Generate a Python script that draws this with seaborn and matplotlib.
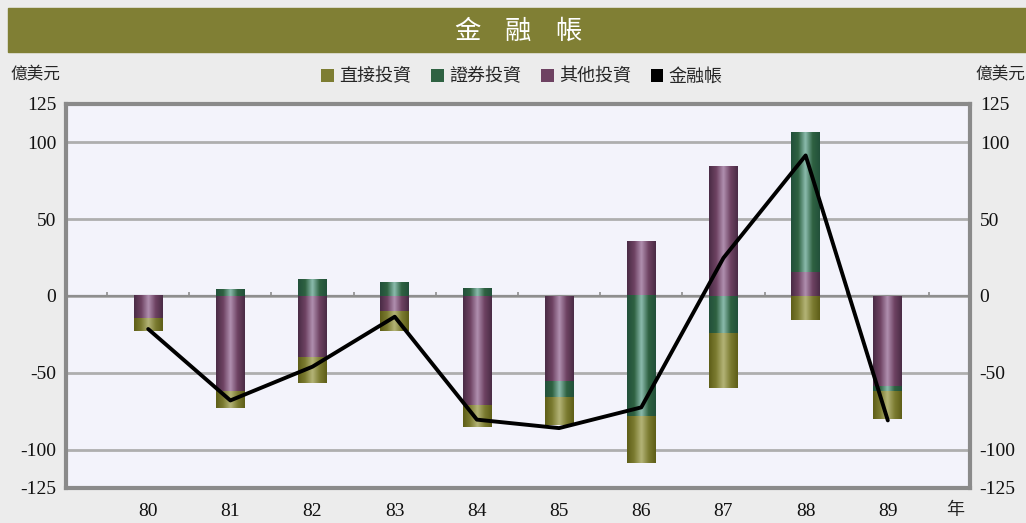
import numpy as np
import matplotlib
matplotlib.use("Agg")
import matplotlib.pyplot as plt
from matplotlib.colors import LinearSegmentedColormap
from matplotlib.patches import Patch, Rectangle
import seaborn as sns

# values in 億美元
years = ["80", "81", "82", "83", "84", "85", "86", "87", "88", "89"]
direct = [-8.1, -10.8, -16.3, -12.4, -13.7, -18.0, -30.0, -35.7, -15.3, -18.0]
portfolio = [0.0, 4.4, 10.5, 8.7, 4.6, -10.5, -79.0, -23.9, 90.6, -2.8]
other = [-14.6, -61.9, -40.1, -10.3, -71.7, -55.7, 35.7, 84.0, 15.3, -59.0]
financial = [-21.5, -68.0, -46.0, -13.5, -80.5, -86.0, -72.5, 24.8, 91.5, -81.0]

labels = ["直接投資", "證券投資", "其他投資", "金融帳"]
colors = ["#7d7d32", "#2f6242", "#6e4262", "#000000"]
# (dark edge, light centre) for the cylinder look
shades = {
    "direct": ("#5e5e18", "#b4b478"),
    "portfolio": ("#22503a", "#8cbcae"),
    "other": ("#4a2c46", "#b090b0"),
}

sns.set_theme(style="white")
plt.rcParams["font.family"] = ["Liberation Serif", "Noto Sans CJK TC", "DejaVu Sans"]

fig = plt.figure(figsize=(10.26, 5.23), dpi=100, facecolor="#ececec")
ax = fig.add_axes([66 / 1026, 35 / 523, 904 / 1026, 384 / 523])
ax.set_facecolor("#f3f3fb")

x = np.arange(len(years))
width = 0.35
pos_base = np.zeros(len(years))
neg_base = np.zeros(len(years))

# stack order from the zero line outwards: other, portfolio, direct
for key, vals, col in [("other", other, colors[2]),
                       ("portfolio", portfolio, colors[1]),
                       ("direct", direct, colors[0])]:
    vals = np.array(vals)
    bottom = np.where(vals >= 0, pos_base, neg_base)
    bars = ax.bar(x, vals, width, bottom=bottom, color=col, zorder=2, linewidth=0)
    dark, light = shades[key]
    cmap = LinearSegmentedColormap.from_list(key, [dark, col, light, col, dark])
    for p in bars.patches:
        if p.get_height() == 0:
            continue
        x0, y0 = p.get_x(), p.get_y()
        ax.imshow(np.linspace(0, 1, 64)[None, :], cmap=cmap, aspect="auto",
                  extent=(x0, x0 + p.get_width(), y0, y0 + p.get_height()),
                  interpolation="bilinear", zorder=2.1)
    pos_base += np.where(vals >= 0, vals, 0)
    neg_base += np.where(vals < 0, vals, 0)

sns.lineplot(x=x, y=financial, color="black", linewidth=2.8, ax=ax, zorder=5)

ax.set_xlim(-1, len(years))
ax.set_ylim(-125, 125)
ax.set_xticks(x)
ax.set_xticklabels(years)
ax.set_yticks([-125, -100, -50, 0, 50, 100, 125])
ax.set_yticklabels(["-125", "-100", "-50", "0", "50", "100", "125"])
ax.tick_params(axis="x", length=0, pad=11, labelsize=14)
ax.tick_params(axis="y", length=0, pad=7, labelsize=14, labelright=True)
for t in ax.get_yticklabels() + ax.get_xticklabels():
    t.set_color("#111111")

ax.grid(axis="y", color="#aeaeae", linewidth=2.0, zorder=1)
ax.grid(axis="x", visible=False)
ax.axhline(0, color="#8e8e8e", linewidth=1.6, zorder=1.5)
ax.vlines(np.arange(len(years) + 1) - 0.5, 0, 2.5, color="#8e8e8e", linewidth=1.2, zorder=1.5)
for s in ax.spines.values():
    s.set_color("#8a8a8a")
    s.set_linewidth(3)

# title bar
fig.patches.append(Rectangle((8 / 1026, 471 / 523), 1 - 8 / 1026, 44 / 523,
                             transform=fig.transFigure, color="#807f34", zorder=0))
for ch, px in zip("金融帳", [467, 518, 568]):
    fig.text(px / 1026, 1 - 31 / 523, ch, color="white", fontsize=19,
             ha="center", va="center", family=["Noto Sans CJK TC"])

fig.text(35 / 1026, 1 - 75 / 523, "億美元", fontsize=12, ha="center", va="center")
fig.text(1000 / 1026, 1 - 75 / 523, "億美元", fontsize=12, ha="center", va="center")
fig.text(955 / 1026, 1 - 511 / 523, "年", fontsize=13, ha="center", va="center")

handles = [Patch(facecolor=c, edgecolor="none") for c in colors]
fig.legend(handles, labels, loc="center", bbox_to_anchor=(522 / 1026, 1 - 77 / 523),
           ncol=4, frameon=False, fontsize=13, handlelength=0.7, handleheight=0.7,
           handletextpad=0.3, columnspacing=1.1)

fig.savefig("out.png", dpi=100, facecolor=fig.get_facecolor())
